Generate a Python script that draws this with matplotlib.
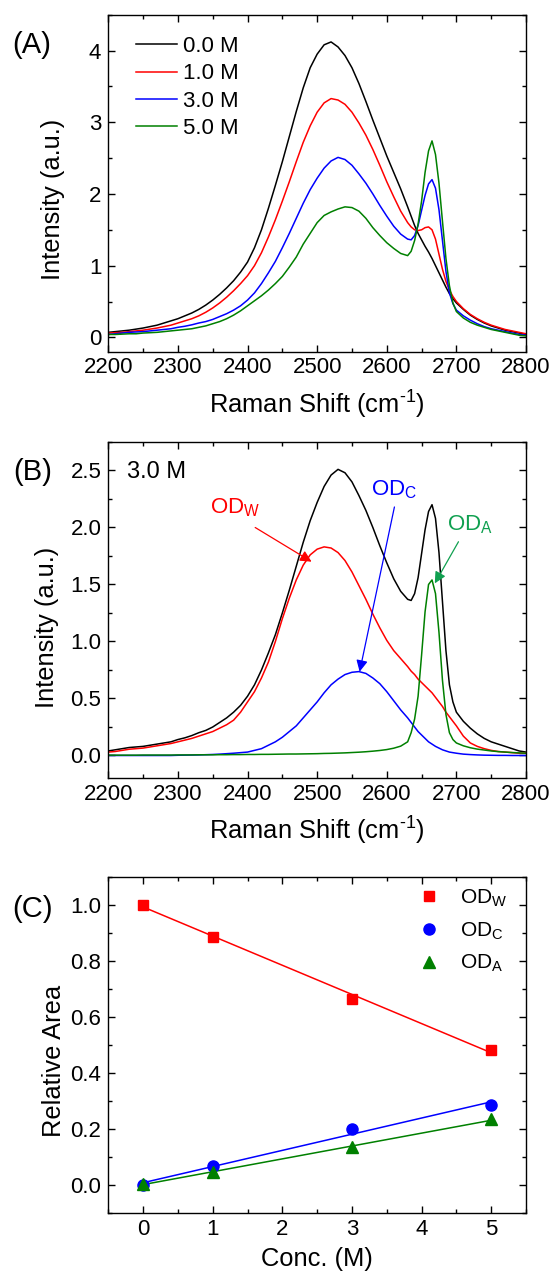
import numpy as np
import matplotlib
matplotlib.use('Agg')
import matplotlib.pyplot as plt
from matplotlib.ticker import MultipleLocator, FormatStrFormatter

plt.rcParams['font.family'] = ['Liberation Sans', 'DejaVu Sans']
plt.rcParams['mathtext.fontset'] = 'custom'
plt.rcParams['mathtext.rm'] = 'Liberation Sans'
plt.rcParams['mathtext.it'] = 'Liberation Sans:italic'
plt.rcParams['mathtext.bf'] = 'Liberation Sans:bold'
plt.rcParams['mathtext.default'] = 'regular'

# ---------------- data ----------------
raman_shift = [2200, 2210, 2220, 2230, 2240, 2250, 2260, 2270, 2280, 2290,
               2300, 2310, 2320, 2330, 2340, 2350, 2360, 2370, 2380, 2390,
               2400, 2410, 2420, 2430, 2440, 2450, 2460, 2470, 2480, 2490,
               2500, 2510, 2520, 2530, 2540, 2550, 2560, 2570, 2580, 2590,
               2600, 2610, 2620, 2630,
               2635, 2640, 2645, 2650, 2655, 2660, 2665, 2670, 2675, 2680, 2685, 2690, 2695, 2700,
               2710, 2720, 2730, 2740, 2750, 2760, 2770, 2780, 2790, 2800]

int_0M = [0.07, 0.08, 0.09, 0.10, 0.115, 0.13, 0.15, 0.17, 0.20, 0.23,
          0.26, 0.30, 0.34, 0.39, 0.45, 0.52, 0.60, 0.69, 0.79, 0.91,
          1.05, 1.25, 1.50, 1.80, 2.12, 2.45, 2.80, 3.15, 3.48, 3.76,
          3.95, 4.08, 4.12, 4.05, 3.93, 3.76, 3.54, 3.29, 3.03, 2.78,
          2.53, 2.30, 2.07, 1.82,
          1.69, 1.56, 1.45, 1.36, 1.27, 1.19, 1.10, 1.00, 0.90, 0.80, 0.70, 0.61, 0.54, 0.48,
          0.39, 0.31, 0.25, 0.20, 0.16, 0.13, 0.10, 0.08, 0.06, 0.04]

int_1M = [0.06, 0.065, 0.07, 0.08, 0.09, 0.10, 0.115, 0.13, 0.15, 0.17,
          0.20, 0.23, 0.26, 0.30, 0.35, 0.41, 0.48, 0.56, 0.65, 0.75,
          0.86, 1.00, 1.18, 1.40, 1.64, 1.90, 2.17, 2.45, 2.72, 2.95,
          3.14, 3.27, 3.33, 3.31, 3.25, 3.14, 2.99, 2.82, 2.62, 2.40,
          2.17, 1.96, 1.76, 1.60,
          1.54, 1.50, 1.49, 1.50, 1.53, 1.54, 1.50, 1.37, 1.16, 0.95, 0.78, 0.66, 0.57, 0.50,
          0.40, 0.32, 0.26, 0.21, 0.17, 0.14, 0.11, 0.09, 0.07, 0.05]

int_3M = [0.04, 0.05, 0.06, 0.07, 0.075, 0.08, 0.09, 0.10, 0.11, 0.12,
          0.14, 0.155, 0.175, 0.20, 0.22, 0.25, 0.29, 0.33, 0.38, 0.44,
          0.52, 0.62, 0.75, 0.90, 1.06, 1.25, 1.45, 1.66, 1.87, 2.06,
          2.22, 2.36, 2.46, 2.51, 2.48, 2.40, 2.28, 2.15, 2.00, 1.84,
          1.69, 1.55, 1.44, 1.37,
          1.36, 1.42, 1.56, 1.77, 1.98, 2.14, 2.20, 2.08, 1.78, 1.35, 0.92, 0.62, 0.47, 0.38,
          0.30, 0.24, 0.19, 0.15, 0.12, 0.10, 0.08, 0.06, 0.04, 0.03]

int_5M = [0.04, 0.04, 0.045, 0.05, 0.05, 0.06, 0.065, 0.07, 0.08, 0.09,
          0.10, 0.11, 0.12, 0.14, 0.16, 0.19, 0.22, 0.26, 0.31, 0.37,
          0.44, 0.51, 0.58, 0.66, 0.75, 0.85, 0.98, 1.12, 1.30, 1.45,
          1.60, 1.70, 1.75, 1.79, 1.82, 1.81, 1.76, 1.66, 1.53, 1.42,
          1.32, 1.24, 1.17, 1.14,
          1.20, 1.35, 1.58, 1.90, 2.30, 2.60, 2.74, 2.55, 2.15, 1.62, 1.10, 0.72, 0.48, 0.36,
          0.27, 0.21, 0.17, 0.14, 0.11, 0.09, 0.07, 0.05, 0.03, 0.02]

fit_odw = [0.03, 0.035, 0.045, 0.055, 0.06, 0.065, 0.075, 0.085, 0.095, 0.105,
           0.12, 0.135, 0.15, 0.17, 0.19, 0.21, 0.24, 0.27, 0.31, 0.38,
           0.47, 0.56, 0.68, 0.82, 1.00, 1.20, 1.38, 1.54, 1.67, 1.76,
           1.81, 1.83, 1.82, 1.78, 1.71, 1.61, 1.49, 1.37, 1.24, 1.12,
           1.01, 0.92, 0.85, 0.78,
           0.74, 0.71, 0.67, 0.64, 0.61, 0.58, 0.55, 0.51, 0.47, 0.43, 0.38, 0.34, 0.30, 0.26,
           0.17, 0.11, 0.08, 0.06, 0.045, 0.035, 0.03, 0.025, 0.02, 0.02]

fit_odc = [0.0, 0.0, 0.0, 0.0, 0.0, 0.0, 0.0, 0.0, 0.0, 0.0,
           0.002, 0.003, 0.004, 0.005, 0.007, 0.009, 0.012, 0.016, 0.02, 0.025,
           0.03, 0.045, 0.06, 0.09, 0.12, 0.16, 0.21, 0.26, 0.33, 0.40,
           0.47, 0.55, 0.62, 0.67, 0.71, 0.73, 0.736, 0.72, 0.68, 0.63,
           0.56, 0.48, 0.40, 0.33,
           0.29, 0.25, 0.21, 0.18, 0.15, 0.12, 0.10, 0.08, 0.065, 0.05, 0.04, 0.03, 0.025, 0.02,
           0.012, 0.008, 0.005, 0.003, 0.002, 0.001, 0.001, 0.0, 0.0, 0.0]

fit_oda = [0.003, 0.003, 0.003, 0.003, 0.003, 0.004, 0.004, 0.004, 0.004, 0.004,
           0.005, 0.005, 0.005, 0.006, 0.006, 0.006, 0.007, 0.007, 0.008, 0.008,
           0.009, 0.009, 0.010, 0.010, 0.011, 0.012, 0.013, 0.013, 0.014, 0.015,
           0.016, 0.018, 0.019, 0.021, 0.023, 0.026, 0.029, 0.033, 0.038, 0.044,
           0.052, 0.064, 0.082, 0.12,
           0.20, 0.32, 0.52, 0.88, 1.26, 1.50, 1.54, 1.42, 1.08, 0.66, 0.36, 0.20, 0.14, 0.11,
           0.085, 0.068, 0.056, 0.048, 0.040, 0.034, 0.030, 0.026, 0.023, 0.020]

conc_labels = ['0.0 M', '1.0 M', '3.0 M', '5.0 M']

conc = [0, 1, 3, 5]
rel_odw = [1.0, 0.886, 0.665, 0.482]
rel_odc = [0.0, 0.068, 0.202, 0.285]
rel_oda = [0.006, 0.046, 0.135, 0.235]

# ---------------- figure ----------------
fig = plt.figure(figsize=(5.52, 12.72), dpi=100)
L, W = 0.1962, 0.7567
axA = fig.add_axes([L, 0.72351, W, 0.26494])
axB = fig.add_axes([L, 0.38813, W, 0.26439])
axC = fig.add_axes([L, 0.04615, W, 0.26462])

RED, BLUE, GREEN = '#FF0000', '#0000FF', '#008000'
LW = 1.1
XLAB = 'Raman Shift (cm$^{\\text{-}1}$)'

def style(ax):
    ax.tick_params(which='both', direction='in', top=True, right=True, width=1.0, labelsize=16)
    ax.tick_params(which='major', length=5)
    ax.tick_params(which='minor', length=2.8)
    ax.tick_params(axis='x', pad=4.0)
    ax.tick_params(axis='y', pad=5.0)
    for s in ax.spines.values():
        s.set_linewidth(1.0)

x = np.array(raman_shift)

# Panel A
for y, c, lab in zip([int_0M, int_1M, int_3M, int_5M], ['black', RED, BLUE, GREEN], conc_labels):
    axA.plot(x, y, color=c, lw=LW, label=lab)
axA.set_xlim(2200, 2800)
axA.set_ylim(-0.2, 4.5)
axA.xaxis.set_major_locator(MultipleLocator(100))
axA.xaxis.set_minor_locator(MultipleLocator(50))
axA.yaxis.set_major_locator(MultipleLocator(1))
axA.yaxis.set_minor_locator(MultipleLocator(0.5))
style(axA)
axA.set_xlabel(XLAB, fontsize=18.4)
axA.set_ylabel('Intensity (a.u.)', fontsize=18.4)
axA.xaxis.set_label_coords(0.5, -0.11)
axA.yaxis.set_label_coords(-0.103, 0.4525)
axA.legend(loc='upper left', bbox_to_anchor=(0.066, 0.936), frameon=False, fontsize=16,
           handlelength=1.83, handletextpad=0.27, labelspacing=0.28, borderpad=0, borderaxespad=0)

# Panel B
axB.plot(x, int_3M, color='black', lw=LW)
axB.plot(x, fit_odw, color=RED, lw=LW)
axB.plot(x, fit_odc, color=BLUE, lw=LW)
axB.plot(x, fit_oda, color=GREEN, lw=LW)
axB.set_xlim(2200, 2800)
axB.set_ylim(-0.2, 2.75)
axB.xaxis.set_major_locator(MultipleLocator(100))
axB.xaxis.set_minor_locator(MultipleLocator(50))
axB.yaxis.set_major_locator(MultipleLocator(0.5))
axB.yaxis.set_minor_locator(MultipleLocator(0.25))
axB.yaxis.set_major_formatter(FormatStrFormatter('%.1f'))
style(axB)
axB.set_xlabel(XLAB, fontsize=18.4)
axB.set_ylabel('Intensity (a.u.)', fontsize=18.4)
axB.xaxis.set_label_coords(0.5, -0.11)
axB.yaxis.set_label_coords(-0.117, 0.45)
axB.text(0.045, 0.912, '3.0 M', transform=axB.transAxes, fontsize=17, ha='left', va='center')
OD_A_COL = '#10A050'
axB.text(2346, 2.125, 'OD$_{W}$', color=RED, fontsize=16, ha='left', va='baseline')
axB.text(2577, 2.285, 'OD$_{C}$', color=BLUE, fontsize=16, ha='left', va='baseline')
axB.text(2686, 1.978, 'OD$_{A}$', color=OD_A_COL, fontsize=16, ha='left', va='baseline')
for (xs, ys), (xe, ye), c in [((2411, 2.00), (2492, 1.70), RED),
                              ((2611, 2.18), (2561, 0.735), BLUE),
                              ((2703, 1.875), (2669, 1.51), OD_A_COL)]:
    axB.annotate('', xy=(xe, ye), xytext=(xs, ys),
                 arrowprops=dict(arrowstyle='-|>', color=c, lw=0.9, mutation_scale=17,
                                 shrinkA=0, shrinkB=0))

# Panel C
xf = np.array([0, 5])
for yv, c, m, ms, lab in [(rel_odw, RED, 's', 7.5, 'OD$_{W}$'),
                          (rel_odc, BLUE, 'o', 8, 'OD$_{C}$'),
                          (rel_oda, GREEN, '^', 8.5, 'OD$_{A}$')]:
    p = np.polyfit(conc, yv, 1)
    axC.plot(xf, np.polyval(p, xf), color=c, lw=1.1, zorder=2)
    axC.plot(conc, yv, ls='none', marker=m, ms=ms, color=c, label=lab, zorder=3)
axC.set_xlim(-0.5, 5.5)
axC.set_ylim(-0.1, 1.1)
axC.xaxis.set_major_locator(MultipleLocator(1))
axC.xaxis.set_minor_locator(MultipleLocator(0.5))
axC.yaxis.set_major_locator(MultipleLocator(0.2))
axC.yaxis.set_minor_locator(MultipleLocator(0.1))
axC.yaxis.set_major_formatter(FormatStrFormatter('%.1f'))
style(axC)
axC.set_xlabel('Conc. (M)', fontsize=18.4)
axC.set_ylabel('Relative Area', fontsize=18.4)
axC.xaxis.set_label_coords(0.5, -0.1)
axC.yaxis.set_label_coords(-0.101, 0.453)
axC.legend(loc='upper left', bbox_to_anchor=(0.7436, 0.968), frameon=False, fontsize=15,
           numpoints=1, handlelength=1.0, handletextpad=0.95, labelspacing=0.55,
           borderpad=0, borderaxespad=0)

# panel labels
fig.text(31.5 / 552, 1 - 45 / 1272, '(A)', fontsize=21, ha='center', va='center')
fig.text(32.5 / 552, 1 - 471.7 / 1272, '(B)', fontsize=21, ha='center', va='center')
fig.text(32.7 / 552, 1 - 909 / 1272, '(C)', fontsize=21, ha='center', va='center')

fig.savefig('out.png', dpi=100)
